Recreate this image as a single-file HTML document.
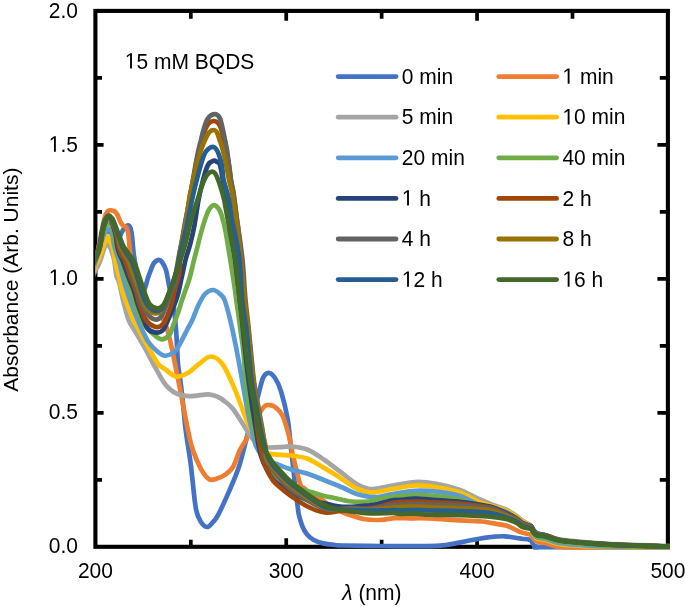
<!DOCTYPE html>
<html><head><meta charset="utf-8"><style>
html,body{margin:0;padding:0;background:#fff;}
svg{display:block;will-change:transform;}
text{font-family:"Liberation Sans", sans-serif;fill:#000;}
</style></head><body>
<svg width="685" height="607" viewBox="0 0 685 607">
<rect width="685" height="607" fill="#fff"/>
<rect x="95.40" y="10.90" width="572.49" height="535.90" fill="none" stroke="#000" stroke-width="4.1"/>
<path d="M190.81 546.80V539.70M190.81 10.90V18.80M286.23 546.80V538.30M286.23 10.90V20.80M381.64 546.80V539.70M381.64 10.90V18.80M477.06 546.80V538.30M477.06 10.90V20.80M572.48 546.80V539.70M572.48 10.90V18.80M95.40 479.81H102.00M667.89 479.81H659.79M95.40 412.82H103.60M667.89 412.82H657.39M95.40 345.84H102.00M667.89 345.84H659.79M95.40 278.85H103.60M667.89 278.85H657.39M95.40 211.86H102.00M667.89 211.86H659.79M95.40 144.88H103.60M667.89 144.88H657.39M95.40 77.89H102.00M667.89 77.89H659.79" stroke="#000" stroke-width="3.7" fill="none"/>
<defs><clipPath id="pc"><rect x="95.4" y="0" width="574.6" height="607"/></clipPath></defs>
<g fill="none" stroke-linejoin="round" stroke-linecap="butt" clip-path="url(#pc)">
<path d="M93.0 274.3C93.4 272.9 94.2 270.1 95.4 266.0C96.6 261.9 98.4 255.0 100.0 250.0C101.6 245.0 103.3 239.0 105.0 236.0C106.7 233.0 108.3 232.0 110.0 232.0C111.7 232.0 113.5 235.0 115.0 236.0C116.5 237.0 117.8 238.7 119.0 238.0C120.2 237.3 121.0 233.7 121.9 232.0C122.8 230.3 123.5 229.1 124.5 228.0C125.5 226.9 127.0 225.3 128.0 225.3C129.0 225.3 129.8 226.2 130.5 228.0C131.2 229.8 131.6 233.0 132.0 236.0C132.4 239.0 132.6 242.7 132.9 246.0C133.2 249.3 133.5 252.3 134.0 256.0C134.5 259.7 135.2 263.7 136.0 268.0C136.8 272.3 138.1 278.3 139.0 282.0C139.9 285.7 140.8 288.5 141.5 290.0C142.2 291.5 142.8 291.6 143.5 291.0C144.2 290.4 144.9 288.4 145.6 286.2C146.3 284.0 147.0 280.8 147.9 278.0C148.8 275.2 150.0 272.2 151.0 269.7C152.0 267.2 152.8 264.6 154.0 263.0C155.2 261.4 157.1 260.1 158.4 259.9C159.7 259.7 160.8 260.4 162.0 262.0C163.2 263.6 165.0 267.0 165.9 269.7C166.8 272.4 167.1 275.1 167.7 278.0C168.3 280.9 168.7 284.2 169.3 287.0C169.9 289.8 170.8 292.3 171.5 295.0C172.2 297.7 172.6 297.5 173.4 303.4C174.2 309.3 175.3 320.5 176.1 330.6C176.9 340.7 177.3 355.8 178.0 364.0C178.7 372.2 179.6 374.6 180.3 380.0C181.0 385.4 181.7 391.0 182.3 396.5C182.9 402.0 183.4 407.5 183.9 413.0C184.4 418.5 184.9 423.9 185.6 429.4C186.3 434.9 187.2 440.5 188.0 446.0C188.8 451.5 189.8 457.1 190.5 462.4C191.2 467.7 191.4 470.2 192.3 478.0C193.2 485.8 194.6 501.9 196.0 509.2C197.4 516.5 199.1 519.0 201.0 522.0C202.9 525.0 205.2 527.0 207.2 527.0C209.2 527.0 211.1 524.1 213.0 522.0C214.9 519.9 215.8 519.4 218.4 514.4C221.0 509.4 225.3 500.0 228.8 491.9C232.3 483.8 236.0 475.9 239.2 466.0C242.4 456.1 245.1 443.5 248.1 432.4C251.1 421.3 254.7 408.5 257.2 399.4C259.7 390.3 261.1 382.4 263.0 378.0C264.9 373.6 266.7 372.8 268.7 372.8C270.7 372.8 272.9 374.9 275.0 378.0C277.1 381.1 278.9 384.3 281.0 391.2C283.1 398.1 286.0 409.6 287.7 419.2C289.4 428.8 290.0 440.3 291.0 448.8C292.0 457.3 292.8 463.1 293.5 470.0C294.2 476.9 294.8 484.2 295.5 490.0C296.2 495.8 296.9 500.9 297.5 505.0C298.1 509.1 298.0 511.1 298.8 514.6C299.6 518.1 301.0 522.8 302.3 526.1C303.6 529.4 305.0 531.9 306.9 534.2C308.8 536.5 311.1 538.5 313.8 540.0C316.5 541.5 319.5 542.6 323.0 543.4C326.5 544.2 331.7 544.6 335.0 545.0C338.3 545.4 335.1 545.3 342.6 545.5C350.1 545.7 367.1 545.9 380.0 546.0C392.9 546.1 410.0 546.2 420.0 546.2C430.0 546.2 434.1 546.2 440.0 545.7C445.9 545.2 450.2 544.3 455.3 543.4C460.4 542.5 465.6 541.3 470.7 540.3C475.8 539.3 481.9 538.2 486.0 537.6C490.1 537.0 491.8 536.8 495.0 536.6C498.2 536.4 501.4 536.1 505.0 536.3C508.6 536.5 513.9 537.6 516.7 538.0C519.5 538.4 520.0 538.4 522.0 538.7C524.0 539.0 527.4 539.2 529.0 539.6C530.6 540.0 530.7 540.1 531.5 541.0C532.3 541.9 532.5 544.0 533.6 545.0C534.7 546.0 536.1 546.8 538.2 547.2C540.3 547.6 524.0 547.2 546.0 547.2C568.0 547.2 649.3 547.2 670.0 547.2" stroke="#4472C4" stroke-width="4.7"/>
<path d="M93.0 273.5C93.4 271.6 94.2 267.6 95.4 262.0C96.6 256.4 98.6 247.0 100.0 240.0C101.4 233.0 102.8 224.8 104.0 220.0C105.2 215.2 106.3 213.1 107.5 211.5C108.7 209.9 109.8 210.3 111.0 210.3C112.2 210.3 113.7 210.7 114.8 211.5C115.9 212.3 116.6 213.4 117.5 215.0C118.4 216.6 119.2 219.3 120.0 221.0C120.8 222.7 121.7 224.1 122.5 225.0C123.3 225.9 124.2 225.9 125.0 226.5C125.8 227.1 126.4 226.9 127.0 228.5C127.6 230.1 128.2 233.1 128.6 236.0C129.0 238.9 129.2 242.8 129.5 246.0C129.8 249.2 130.0 251.8 130.5 255.0C131.0 258.2 131.5 261.5 132.5 265.0C133.5 268.5 135.0 271.8 136.5 276.0C138.0 280.2 139.8 285.8 141.5 290.0C143.2 294.2 144.9 298.2 146.5 301.0C148.1 303.8 149.4 305.3 151.0 306.5C152.6 307.7 154.5 307.1 156.0 308.0C157.5 308.9 158.8 310.0 160.0 312.0C161.2 314.0 162.4 317.5 163.5 320.0C164.6 322.5 165.5 324.2 166.5 327.2C167.5 330.2 168.6 334.2 169.5 338.0C170.4 341.8 170.8 343.0 172.2 350.0C173.6 357.0 176.6 372.2 178.2 380.0C179.8 387.8 180.4 391.0 181.5 396.5C182.6 402.0 183.5 407.5 184.6 413.0C185.7 418.5 186.6 423.9 187.8 429.4C189.0 434.9 190.2 441.1 191.6 446.0C193.0 450.9 194.4 454.6 196.3 459.0C198.2 463.4 200.7 468.9 202.9 472.3C205.1 475.7 207.2 478.5 209.6 479.5C211.9 480.5 214.4 479.3 217.0 478.5C219.6 477.7 222.7 476.5 225.4 474.6C228.1 472.7 230.6 471.1 233.0 467.0C235.4 462.9 237.7 454.7 239.9 450.0C242.2 445.3 244.5 443.2 246.5 439.0C248.5 434.8 249.8 429.4 252.0 425.0C254.2 420.6 257.5 415.8 259.7 412.6C261.9 409.4 263.4 407.3 265.0 406.0C266.6 404.7 267.5 404.8 269.2 405.0C270.9 405.2 272.8 405.2 275.0 407.0C277.2 408.8 280.3 410.8 282.7 415.9C285.1 420.9 287.6 430.8 289.3 437.3C291.0 443.8 291.0 447.0 292.8 454.7C294.6 462.4 298.1 477.9 300.0 483.5C301.9 489.1 302.7 486.7 304.0 488.0C305.3 489.3 305.8 489.9 308.0 491.5C310.2 493.1 314.5 495.6 317.3 497.3C320.1 499.1 322.2 500.1 325.0 502.0C327.8 503.9 329.4 506.2 333.8 508.5C338.2 510.8 346.3 513.8 351.3 515.5C356.3 517.2 359.2 518.2 363.6 519.0C368.0 519.8 372.4 520.1 377.6 520.0C382.9 519.9 389.7 518.5 395.1 518.2C400.5 517.9 404.2 518.2 410.0 518.3C415.8 518.3 421.7 518.1 430.0 518.5C438.3 518.9 451.4 519.9 460.0 520.4C468.6 520.9 476.7 521.1 481.7 521.5C486.7 521.9 485.9 522.0 490.0 522.7C494.1 523.4 501.6 524.3 506.0 525.6C510.4 526.9 514.0 529.1 516.7 530.3C519.4 531.5 519.8 531.9 522.0 532.6C524.2 533.3 528.4 534.0 530.0 534.5C531.6 535.0 530.9 534.8 531.5 535.5C532.1 536.2 532.5 537.5 533.5 538.5C534.5 539.5 535.1 540.7 537.2 541.5C539.3 542.3 542.2 542.4 546.0 543.3C549.8 544.2 552.7 546.1 560.0 546.8C567.3 547.5 580.0 547.3 590.0 547.4C600.0 547.5 606.7 547.5 620.0 547.5C633.3 547.5 661.7 547.5 670.0 547.5" stroke="#ED7D31" stroke-width="4.7"/>
<path d="M93.0 276.5C93.4 275.4 94.6 271.8 95.4 270.0C96.2 268.2 97.1 267.9 98.0 266.0C98.9 264.1 100.0 261.4 101.0 258.5C102.0 255.6 103.2 251.1 104.2 248.5C105.2 245.9 106.2 243.0 107.2 243.0C108.2 243.0 109.6 246.7 110.5 248.5C111.4 250.3 111.9 251.9 112.5 254.0C113.1 256.1 113.6 257.3 114.3 261.0C115.0 264.7 115.7 272.5 116.5 276.0C117.3 279.5 117.8 277.7 119.0 282.0C120.2 286.3 121.9 295.7 123.5 302.0C125.1 308.3 126.9 315.5 128.6 320.0C130.3 324.5 131.1 324.6 133.7 329.0C136.3 333.4 140.6 340.5 144.1 346.7C147.6 352.9 151.0 359.8 154.5 366.0C158.0 372.2 161.4 379.4 165.0 384.0C168.6 388.6 171.9 391.3 176.1 393.3C180.3 395.3 184.6 395.9 190.0 396.1C195.4 396.3 203.7 394.2 208.4 394.3C213.1 394.4 214.9 395.6 218.0 397.0C221.1 398.4 224.4 401.0 226.9 403.0C229.4 405.0 230.8 406.3 233.0 409.0C235.2 411.7 236.8 414.5 239.9 419.2C243.0 423.9 248.4 433.2 251.4 437.3C254.4 441.4 255.5 442.3 258.0 444.0C260.5 445.7 262.9 446.8 266.5 447.3C270.1 447.8 275.3 447.3 279.4 447.2C283.5 447.1 286.5 446.1 291.2 446.5C295.9 446.9 302.2 447.6 307.7 449.8C313.2 452.0 318.7 456.1 324.1 459.7C329.5 463.3 334.4 467.4 340.0 471.5C345.6 475.6 352.2 481.6 357.5 484.5C362.8 487.4 365.6 488.8 371.5 489.0C377.4 489.2 385.3 486.7 392.6 485.5C399.9 484.3 408.0 482.3 415.3 482.0C422.6 481.7 428.9 482.5 436.4 483.8C443.8 485.1 452.9 487.4 460.0 489.9C467.1 492.4 473.2 496.5 478.8 499.0C484.4 501.5 488.9 503.2 493.4 505.0C497.9 506.8 502.1 507.7 506.0 509.5C509.9 511.3 514.0 514.2 516.7 516.0C519.4 517.8 519.8 519.0 522.0 520.5C524.2 522.0 528.4 524.0 530.0 525.0C531.6 526.0 530.9 525.7 531.5 526.5C532.1 527.3 532.5 528.8 533.5 530.0C534.5 531.2 535.1 532.6 537.2 533.5C539.3 534.4 542.2 534.5 546.0 535.5C549.8 536.5 552.7 538.4 560.0 539.6C567.3 540.8 580.0 541.8 590.0 542.6C600.0 543.4 606.7 543.8 620.0 544.4C633.3 545.0 661.7 545.7 670.0 546.0" stroke="#A5A5A5" stroke-width="4.7"/>
<path d="M93.0 273.5C93.4 272.2 94.5 268.3 95.4 266.0C96.3 263.7 97.6 261.7 98.5 259.5C99.4 257.3 100.0 255.9 101.0 253.0C102.0 250.1 103.7 244.9 104.8 242.0C105.9 239.1 106.6 235.8 107.5 235.8C108.4 235.8 109.3 240.0 110.2 242.0C111.1 244.0 112.0 244.8 112.8 248.0C113.6 251.2 114.1 256.3 115.1 261.0C116.1 265.7 117.7 271.0 118.9 276.0C120.1 281.0 120.9 286.2 122.3 291.0C123.7 295.8 125.5 300.2 127.4 305.0C129.3 309.8 130.6 313.8 133.6 320.0C136.6 326.2 141.6 335.1 145.6 342.3C149.6 349.5 154.2 358.6 157.4 363.0C160.6 367.4 161.8 366.8 164.9 369.0C168.0 371.2 172.2 375.8 176.0 376.5C179.8 377.2 183.9 375.1 187.7 373.0C191.5 370.9 195.2 366.8 199.0 364.0C202.8 361.2 206.8 356.5 210.7 356.5C214.6 356.5 218.3 358.7 222.2 363.8C226.0 368.9 230.0 378.0 233.8 386.9C237.7 395.8 241.9 408.4 245.3 416.9C248.8 425.3 251.7 432.2 254.5 437.6C257.3 443.0 259.4 446.3 262.0 449.0C264.6 451.7 264.9 452.8 269.8 453.9C274.7 455.0 284.9 454.7 291.2 455.5C297.5 456.3 302.2 456.7 307.7 458.8C313.2 460.9 318.7 464.8 324.1 467.9C329.5 471.0 334.4 474.2 340.0 477.7C345.6 481.2 352.2 486.5 357.5 489.0C362.8 491.5 365.6 492.5 371.5 492.5C377.4 492.5 385.3 490.2 392.6 489.0C399.9 487.8 408.0 485.8 415.3 485.5C422.6 485.2 428.9 486.1 436.4 487.3C443.8 488.5 452.9 490.2 460.0 492.6C467.1 495.1 473.2 499.7 478.8 502.0C484.4 504.3 488.9 505.1 493.4 506.5C497.9 507.9 502.1 508.8 506.0 510.5C509.9 512.2 514.0 515.2 516.7 517.0C519.4 518.8 519.8 520.0 522.0 521.5C524.2 523.0 528.4 525.0 530.0 526.0C531.6 527.0 530.9 526.1 531.5 527.5C532.1 528.9 532.5 532.7 533.5 534.5C534.5 536.3 535.1 537.6 537.2 538.5C539.3 539.4 542.2 539.0 546.0 540.0C549.8 541.0 552.7 543.2 560.0 544.3C567.3 545.3 580.0 545.8 590.0 546.3C600.0 546.8 606.7 546.9 620.0 547.0C633.3 547.1 661.7 547.2 670.0 547.2" stroke="#FFC000" stroke-width="4.7"/>
<path d="M93.0 270.0C93.4 268.7 94.4 265.3 95.4 262.0C96.4 258.7 97.9 253.7 99.0 250.0C100.1 246.3 101.0 243.0 102.0 240.0C103.0 237.0 103.9 233.8 105.0 232.0C106.1 230.2 107.5 229.6 108.5 229.3C109.5 229.1 110.3 229.2 111.0 230.5C111.7 231.8 112.2 234.4 112.8 237.0C113.3 239.6 113.3 242.0 114.3 246.0C115.3 250.0 117.6 256.0 119.0 261.0C120.4 266.0 121.3 271.0 122.6 276.0C123.9 281.0 125.4 286.2 126.9 291.0C128.4 295.8 129.7 299.4 131.8 305.0C133.9 310.6 136.9 318.3 139.7 324.5C142.5 330.7 145.4 337.6 148.6 342.3C151.8 347.0 156.2 350.5 158.9 352.7C161.6 354.9 162.8 355.4 164.6 355.7C166.4 356.0 168.1 355.4 170.0 354.5C171.9 353.6 174.2 352.3 176.1 350.0C178.0 347.7 179.7 344.1 181.5 340.8C183.3 337.5 185.2 333.5 187.0 330.0C188.8 326.5 190.5 324.0 192.3 320.0C194.1 316.0 195.9 310.3 198.0 306.0C200.1 301.7 202.5 296.7 205.0 294.0C207.5 291.3 210.6 290.0 213.1 290.0C215.6 290.0 218.0 292.2 220.0 294.0C222.0 295.8 223.1 295.7 225.0 301.0C226.9 306.3 229.7 317.8 231.6 326.0C233.5 334.2 234.8 341.0 236.6 350.0C238.3 359.0 240.4 370.3 242.1 380.0C243.8 389.7 245.4 399.7 247.0 408.0C248.6 416.3 250.3 423.7 251.8 430.0C253.3 436.3 254.3 441.8 256.0 446.0C257.7 450.2 260.0 453.1 262.0 455.5C264.0 457.9 265.7 459.1 268.0 460.5C270.3 461.9 271.8 462.1 275.7 463.6C279.6 465.1 285.9 467.8 291.2 469.5C296.5 471.2 302.1 471.9 307.7 473.7C313.3 475.5 319.2 478.2 325.0 480.5C330.8 482.8 337.2 485.2 342.6 487.5C348.0 489.8 352.1 492.7 357.5 494.3C362.9 495.9 369.1 497.2 375.0 497.2C380.9 497.1 385.9 495.1 392.6 494.0C399.3 492.9 408.0 491.2 415.3 490.8C422.6 490.4 428.9 490.8 436.4 491.7C443.8 492.6 452.9 493.8 460.0 496.0C467.1 498.2 473.2 503.0 478.8 505.0C484.4 507.0 488.9 506.8 493.4 508.0C497.9 509.2 502.1 510.2 506.0 512.0C509.9 513.8 514.0 516.8 516.7 518.5C519.4 520.2 519.8 521.2 522.0 522.5C524.2 523.8 528.4 525.6 530.0 526.5C531.6 527.4 530.9 526.8 531.5 528.0C532.1 529.2 532.5 532.4 533.5 534.0C534.5 535.6 535.1 536.7 537.2 537.5C539.3 538.3 542.2 538.0 546.0 539.0C549.8 540.0 552.7 542.2 560.0 543.3C567.3 544.4 580.0 545.2 590.0 545.8C600.0 546.4 606.7 546.6 620.0 546.8C633.3 547.0 661.7 547.0 670.0 547.1" stroke="#5B9BD5" stroke-width="4.7"/>
<path d="M93.0 268.7C93.4 267.2 94.4 263.6 95.4 260.0C96.4 256.4 97.9 251.0 99.0 247.0C100.1 243.0 100.9 239.4 102.0 236.0C103.1 232.6 104.4 228.5 105.5 226.5C106.6 224.5 107.5 224.4 108.5 224.2C109.5 224.0 110.7 224.0 111.5 225.3C112.3 226.6 112.8 228.6 113.5 232.0C114.2 235.4 114.6 241.2 115.9 246.0C117.2 250.8 119.6 256.0 121.2 261.0C122.8 266.0 124.2 271.0 125.8 276.0C127.4 281.0 129.6 286.2 131.1 291.0C132.6 295.8 133.3 300.2 135.0 305.0C136.7 309.8 139.2 316.1 141.2 320.0C143.2 323.9 144.6 325.8 147.1 328.5C149.6 331.2 153.5 334.5 156.0 336.3C158.5 338.1 159.7 339.5 161.9 339.3C164.1 339.1 167.5 337.1 169.3 334.9C171.2 332.7 171.6 329.6 173.0 326.0C174.4 322.4 176.3 317.8 177.8 313.5C179.3 309.2 180.1 305.8 182.0 300.0C183.9 294.2 187.5 285.1 189.4 278.8C191.3 272.5 192.1 267.5 193.5 262.0C194.9 256.5 196.4 251.1 197.7 245.9C199.0 240.7 200.3 235.4 201.5 231.0C202.7 226.6 203.8 222.9 205.0 219.5C206.2 216.1 207.1 212.9 208.5 210.5C209.9 208.1 212.0 205.4 213.7 205.1C215.4 204.8 217.2 206.8 218.5 208.5C219.8 210.2 220.4 211.4 221.5 215.0C222.6 218.6 224.0 223.3 225.3 230.0C226.6 236.7 228.1 246.7 229.5 255.0C230.9 263.3 232.2 271.7 233.5 280.0C234.8 288.3 235.8 296.7 237.0 305.0C238.2 313.3 239.5 322.5 240.5 330.0C241.5 337.5 242.3 341.7 243.2 350.0C244.1 358.3 244.6 370.0 245.7 380.0C246.8 390.0 248.1 401.7 249.5 410.0C250.9 418.3 252.5 423.8 254.0 430.0C255.5 436.2 256.8 442.0 258.5 447.0C260.2 452.0 261.8 455.8 264.0 460.0C266.2 464.2 268.5 468.3 272.0 472.0C275.5 475.7 280.4 479.2 285.0 482.0C289.6 484.8 294.2 486.6 299.4 488.5C304.5 490.4 311.6 492.1 315.9 493.4C320.2 494.7 322.2 495.6 325.0 496.3C327.8 497.0 328.0 496.6 332.4 497.5C336.8 498.4 345.2 500.8 351.3 501.5C357.4 502.2 364.9 501.8 368.8 501.5C372.8 501.2 371.0 500.4 375.0 499.6C379.0 498.8 385.9 497.6 392.6 496.9C399.3 496.2 408.0 495.3 415.3 495.2C422.6 495.1 428.9 495.3 436.4 496.0C443.8 496.7 452.9 497.8 460.0 499.6C467.1 501.4 473.2 505.3 478.8 507.0C484.4 508.7 488.9 508.8 493.4 510.0C497.9 511.2 502.1 512.4 506.0 514.0C509.9 515.6 514.0 517.9 516.7 519.5C519.4 521.1 519.8 522.2 522.0 523.5C524.2 524.8 528.4 526.2 530.0 527.0C531.6 527.8 530.9 527.5 531.5 528.5C532.1 529.5 532.5 531.7 533.5 533.0C534.5 534.3 535.1 535.7 537.2 536.5C539.3 537.3 542.2 536.8 546.0 537.7C549.8 538.6 552.7 540.6 560.0 541.8C567.3 542.9 580.0 543.9 590.0 544.6C600.0 545.3 606.7 545.8 620.0 546.2C633.3 546.6 661.7 546.9 670.0 547.0" stroke="#70AD47" stroke-width="4.7"/>
<path d="M93.0 264.9C93.4 263.9 94.3 261.6 95.4 259.0C96.5 256.4 98.3 253.3 99.5 249.0C100.7 244.7 101.4 237.3 102.3 233.0C103.2 228.7 103.9 225.5 105.0 223.0C106.1 220.5 107.5 217.8 108.8 218.0C110.0 218.2 111.4 221.3 112.5 224.0C113.6 226.7 114.8 231.3 115.5 234.0C116.2 236.7 116.2 238.0 116.5 240.0C116.8 242.0 116.7 243.7 117.2 246.0C117.7 248.3 118.6 251.5 119.5 254.0C120.4 256.5 121.3 257.3 122.7 261.0C124.1 264.7 126.1 271.0 128.0 276.0C129.9 281.0 132.3 286.2 134.0 291.0C135.7 295.8 136.3 300.1 138.0 305.0C139.7 309.9 142.3 316.5 144.0 320.5C145.7 324.5 146.0 327.0 148.0 329.0C150.0 331.0 153.5 332.4 156.0 332.6C158.5 332.8 161.0 332.1 163.0 330.0C165.0 327.9 166.3 323.7 168.0 320.0C169.7 316.3 171.6 311.5 173.0 308.0C174.4 304.5 175.5 302.0 176.5 299.0C177.5 296.0 178.1 294.0 179.0 290.0C179.9 286.0 181.0 280.3 182.2 275.0C183.4 269.7 184.7 263.0 186.0 258.0C187.3 253.0 188.6 250.5 190.0 245.0C191.4 239.5 193.1 232.5 194.5 225.0C195.9 217.5 197.1 207.5 198.5 200.0C199.9 192.5 201.4 185.8 203.0 180.0C204.6 174.2 206.2 168.2 208.0 165.0C209.8 161.8 212.2 161.2 213.7 160.7C215.2 160.2 215.9 161.3 217.0 162.0C218.1 162.7 219.0 162.0 220.0 165.0C221.0 168.0 222.1 175.8 222.8 180.0C223.6 184.2 224.0 186.7 224.5 190.0C225.0 193.3 225.3 195.0 226.0 200.0C226.7 205.0 227.9 215.0 228.5 220.0C229.1 225.0 229.1 225.8 229.8 230.0C230.5 234.2 231.6 240.0 232.5 245.0C233.4 250.0 234.2 254.2 235.0 260.0C235.8 265.8 236.5 271.7 237.5 280.0C238.5 288.3 239.8 299.2 241.0 310.0C242.2 320.8 243.2 333.3 244.5 345.0C245.8 356.7 247.2 370.0 248.5 380.0C249.8 390.0 250.8 396.7 252.0 405.0C253.2 413.3 254.9 423.3 256.0 430.0C257.1 436.7 257.6 440.4 258.5 445.0C259.4 449.6 260.2 453.7 261.5 457.5C262.8 461.3 264.2 464.6 266.0 468.0C267.8 471.4 269.7 475.1 272.0 478.0C274.3 480.9 277.0 483.2 280.0 485.5C283.0 487.8 285.4 489.6 290.0 492.0C294.6 494.4 301.7 498.1 307.5 500.0C313.3 501.9 319.6 502.4 325.0 503.5C330.4 504.6 335.6 506.1 340.0 506.6C344.4 507.2 347.0 507.0 351.3 506.8C355.6 506.6 362.1 506.1 366.0 505.7C369.9 505.3 370.6 505.4 375.0 504.5C379.4 503.6 388.4 501.2 392.6 500.4C396.8 499.6 396.2 500.2 400.0 499.9C403.8 499.6 410.3 498.8 415.3 498.7C420.3 498.6 422.6 499.1 430.0 499.6C437.4 500.1 450.0 500.6 460.0 501.8C470.0 503.0 482.3 504.7 490.0 506.6C497.7 508.5 501.6 511.0 506.0 513.0C510.4 515.0 514.0 516.9 516.7 518.5C519.4 520.1 519.8 521.6 522.0 522.8C524.2 524.0 528.4 525.2 530.0 525.8C531.6 526.4 530.9 525.8 531.5 526.5C532.1 527.2 532.5 528.8 533.5 530.0C534.5 531.2 535.1 532.6 537.2 533.5C539.3 534.4 542.2 534.1 546.0 535.2C549.8 536.3 552.7 538.7 560.0 540.0C567.3 541.3 580.0 542.3 590.0 543.1C600.0 543.9 606.7 544.3 620.0 544.9C633.3 545.5 661.7 546.2 670.0 546.5" stroke="#264478" stroke-width="4.7"/>
<path d="M93.0 263.9C93.4 262.9 94.3 260.6 95.4 258.0C96.5 255.3 98.3 252.2 99.5 248.0C100.7 243.8 101.4 236.8 102.3 232.5C103.2 228.2 103.9 225.0 105.0 222.5C106.1 220.0 107.5 217.3 108.8 217.5C110.0 217.7 111.3 220.9 112.5 223.5C113.7 226.1 115.2 230.2 116.0 233.0C116.8 235.8 117.1 237.8 117.5 240.0C117.9 242.2 117.8 243.7 118.4 246.0C119.0 248.3 119.9 251.5 121.0 254.0C122.1 256.5 123.5 257.3 125.0 261.0C126.5 264.7 128.4 271.0 130.2 276.0C132.0 281.0 134.4 286.2 136.0 291.0C137.6 295.8 138.0 300.2 139.7 305.0C141.4 309.8 143.3 316.3 146.0 320.0C148.7 323.7 153.2 326.3 156.0 327.0C158.8 327.7 161.0 326.2 163.0 324.0C165.0 321.8 166.5 317.7 168.0 314.0C169.5 310.3 170.9 306.0 172.0 302.0C173.1 298.0 173.4 294.5 174.6 290.0C175.8 285.5 178.0 280.8 179.0 275.0C180.0 269.2 179.5 263.3 180.5 255.0C181.5 246.7 183.5 234.2 185.0 225.0C186.5 215.8 187.7 210.0 189.5 200.0C191.3 190.0 194.4 173.3 196.0 165.0C197.6 156.7 198.0 154.2 199.0 150.0C200.0 145.8 201.0 143.3 202.0 140.0C203.0 136.7 203.9 132.8 205.0 130.0C206.1 127.2 207.0 125.0 208.5 123.5C210.0 122.0 212.2 121.0 213.9 121.0C215.6 121.0 217.2 122.0 218.5 123.5C219.8 125.0 220.7 127.2 221.5 130.0C222.3 132.8 222.8 136.7 223.6 140.0C224.3 143.3 225.1 145.8 226.0 150.0C226.9 154.2 228.2 160.0 229.0 165.0C229.8 170.0 230.1 175.8 230.8 180.0C231.5 184.2 232.4 186.7 233.0 190.0C233.6 193.3 233.8 195.0 234.5 200.0C235.2 205.0 236.4 215.0 237.0 220.0C237.6 225.0 237.6 223.3 238.3 230.0C239.1 236.7 240.5 248.3 241.5 260.0C242.5 271.7 243.4 288.3 244.5 300.0C245.6 311.7 246.5 316.7 247.8 330.0C249.1 343.3 251.3 367.5 252.5 380.0C253.7 392.5 254.2 396.7 255.0 405.0C255.8 413.3 256.8 423.3 257.6 430.0C258.4 436.7 259.2 440.4 260.0 445.0C260.8 449.6 261.1 453.3 262.3 457.5C263.5 461.7 265.2 466.2 267.0 470.0C268.8 473.8 270.8 477.6 273.0 480.5C275.2 483.4 277.2 484.8 280.0 487.3C282.8 489.8 285.4 492.1 290.0 495.3C294.6 498.5 301.7 503.6 307.5 506.5C313.3 509.4 319.6 511.8 325.0 512.5C330.4 513.2 335.6 511.4 340.0 511.0C344.4 510.6 347.0 510.7 351.3 510.3C355.6 509.9 362.1 509.0 366.0 508.5C369.9 508.0 370.6 508.4 375.0 507.5C379.4 506.6 388.4 504.0 392.6 503.1C396.8 502.2 396.2 502.4 400.0 502.2C403.8 502.0 410.3 501.7 415.3 501.7C420.3 501.7 422.6 502.0 430.0 502.3C437.4 502.6 450.0 502.7 460.0 503.6C470.0 504.5 482.3 505.8 490.0 507.5C497.7 509.2 501.6 512.1 506.0 514.0C510.4 515.9 514.0 517.5 516.7 519.0C519.4 520.5 519.8 522.1 522.0 523.3C524.2 524.5 528.4 525.7 530.0 526.3C531.6 526.9 530.9 526.3 531.5 527.0C532.1 527.7 532.5 529.3 533.5 530.5C534.5 531.7 535.1 533.2 537.2 534.0C539.3 534.8 542.2 534.5 546.0 535.5C549.8 536.5 552.7 538.8 560.0 540.1C567.3 541.4 580.0 542.4 590.0 543.2C600.0 544.0 606.7 544.5 620.0 545.0C633.3 545.5 661.7 546.2 670.0 546.5" stroke="#9E480E" stroke-width="4.7"/>
<path d="M93.0 263.9C93.4 262.9 94.3 260.6 95.4 258.0C96.5 255.3 98.3 252.3 99.5 248.0C100.7 243.7 101.4 236.3 102.3 232.0C103.2 227.7 103.9 224.5 105.0 222.0C106.1 219.5 107.5 216.9 108.8 217.0C110.0 217.1 111.1 219.7 112.5 222.5C113.9 225.3 115.9 230.8 117.0 234.0C118.1 237.2 118.4 239.7 119.0 242.0C119.6 244.3 119.6 245.7 120.5 248.0C121.4 250.3 123.2 253.7 124.5 256.0C125.8 258.3 127.3 258.7 128.6 262.0C129.9 265.3 130.7 271.2 132.3 276.0C133.9 280.8 136.4 286.2 138.0 291.0C139.6 295.8 140.4 301.0 142.1 305.0C143.8 309.0 145.8 312.6 148.0 315.0C150.2 317.4 152.8 319.2 155.0 319.5C157.2 319.8 159.2 319.2 161.0 317.0C162.8 314.8 164.3 310.2 166.0 306.0C167.7 301.8 169.4 296.3 171.0 292.0C172.6 287.7 174.0 286.7 175.5 280.0C177.0 273.3 178.4 261.5 180.0 252.0C181.6 242.5 183.4 231.7 185.0 223.0C186.6 214.3 187.8 209.7 189.5 200.0C191.2 190.3 194.0 173.3 195.5 165.0C197.0 156.7 197.6 154.2 198.5 150.0C199.4 145.8 200.2 143.3 201.0 140.0C201.8 136.7 202.4 133.5 203.5 130.0C204.6 126.5 205.7 121.7 207.5 119.0C209.3 116.3 212.3 114.3 214.3 114.1C216.3 113.8 218.2 115.3 219.5 117.5C220.8 119.7 221.4 123.2 222.3 127.0C223.2 130.8 224.2 136.2 225.0 140.0C225.8 143.8 226.3 145.8 227.0 150.0C227.7 154.2 228.3 160.0 229.0 165.0C229.7 170.0 230.4 175.8 231.0 180.0C231.6 184.2 232.2 186.7 232.8 190.0C233.4 193.3 233.6 195.0 234.3 200.0C235.0 205.0 236.3 215.0 237.0 220.0C237.7 225.0 237.6 223.3 238.5 230.0C239.4 236.7 241.3 248.3 242.5 260.0C243.7 271.7 244.4 288.3 245.5 300.0C246.6 311.7 247.4 316.7 248.8 330.0C250.2 343.3 252.3 367.5 253.8 380.0C255.3 392.5 256.6 396.7 258.0 405.0C259.4 413.3 261.4 423.2 262.5 430.0C263.6 436.8 264.1 441.4 264.5 446.0C264.9 450.6 264.2 454.2 265.1 457.5C266.0 460.8 267.5 462.4 270.0 466.0C272.5 469.6 276.7 475.2 280.0 479.0C283.3 482.8 285.4 485.4 290.0 489.0C294.6 492.6 301.7 497.2 307.5 500.5C313.3 503.8 319.6 507.6 325.0 509.0C330.4 510.4 335.6 509.1 340.0 509.0C344.4 508.9 347.0 508.2 351.3 508.2C355.6 508.2 362.1 509.0 366.0 509.0C369.9 509.0 370.6 508.6 375.0 508.0C379.4 507.4 388.4 505.8 392.6 505.2C396.8 504.6 396.2 504.9 400.0 504.7C403.8 504.5 410.3 504.0 415.3 504.0C420.3 504.0 422.6 504.3 430.0 504.6C437.4 504.9 450.0 505.0 460.0 505.6C470.0 506.2 482.3 506.5 490.0 508.0C497.7 509.5 501.6 512.6 506.0 514.5C510.4 516.4 514.0 518.0 516.7 519.5C519.4 521.0 519.8 522.6 522.0 523.8C524.2 525.0 528.4 526.2 530.0 526.8C531.6 527.4 530.9 526.8 531.5 527.5C532.1 528.2 532.5 529.9 533.5 531.0C534.5 532.1 535.1 533.5 537.2 534.3C539.3 535.1 542.2 534.7 546.0 535.7C549.8 536.7 552.7 539.0 560.0 540.2C567.3 541.5 580.0 542.4 590.0 543.2C600.0 544.0 606.7 544.5 620.0 545.0C633.3 545.5 661.7 546.2 670.0 546.5" stroke="#636363" stroke-width="4.7"/>
<path d="M93.0 262.9C93.4 261.9 94.3 259.6 95.4 257.0C96.5 254.3 98.3 251.2 99.5 247.0C100.7 242.8 101.4 235.8 102.3 231.5C103.2 227.2 103.9 224.0 105.0 221.5C106.1 219.0 107.5 216.5 108.8 216.5C110.0 216.5 111.1 218.8 112.5 221.5C113.9 224.2 115.8 229.6 117.0 233.0C118.2 236.4 118.8 239.5 119.5 242.0C120.2 244.5 120.1 245.8 121.0 248.0C121.9 250.2 123.7 252.8 125.0 255.0C126.3 257.2 127.1 257.5 128.6 261.0C130.1 264.5 132.2 271.0 134.0 276.0C135.8 281.0 137.8 286.2 139.5 291.0C141.2 295.8 142.8 301.6 144.5 305.0C146.2 308.4 148.2 310.1 150.0 311.5C151.8 312.9 153.8 313.6 155.6 313.5C157.4 313.4 159.1 313.4 161.0 311.0C162.9 308.6 165.1 303.3 167.0 299.0C168.9 294.7 171.0 289.5 172.5 285.0C174.0 280.5 174.8 277.8 176.0 272.0C177.2 266.2 178.3 258.3 180.0 250.0C181.7 241.7 184.5 230.3 186.0 222.0C187.5 213.7 188.2 205.3 189.0 200.0C189.8 194.7 189.7 195.8 191.0 190.0C192.3 184.2 194.9 171.7 196.6 165.0C198.3 158.3 199.6 154.2 201.0 150.0C202.4 145.8 203.7 142.9 205.0 140.0C206.3 137.1 207.6 134.2 209.0 132.5C210.4 130.8 212.4 130.0 213.7 130.0C215.0 130.0 216.0 130.8 217.0 132.5C218.0 134.2 218.6 137.1 219.6 140.0C220.6 142.9 221.7 145.8 222.8 150.0C223.9 154.2 225.3 160.0 226.3 165.0C227.3 170.0 228.1 175.8 229.0 180.0C229.9 184.2 230.8 186.7 231.5 190.0C232.2 193.3 232.6 195.0 233.3 200.0C234.1 205.0 235.3 215.0 236.0 220.0C236.7 225.0 236.5 223.3 237.3 230.0C238.1 236.7 239.8 248.3 241.0 260.0C242.2 271.7 243.5 288.3 244.7 300.0C245.9 311.7 246.9 316.7 248.3 330.0C249.7 343.3 251.8 367.5 253.3 380.0C254.8 392.5 256.1 396.7 257.5 405.0C258.9 413.3 260.7 423.2 262.0 430.0C263.3 436.8 264.8 441.4 265.5 446.0C266.2 450.6 265.5 454.2 266.5 457.5C267.5 460.8 269.2 463.0 271.5 466.0C273.8 469.0 276.9 472.2 280.0 475.5C283.1 478.8 285.4 481.8 290.0 485.5C294.6 489.2 301.7 494.2 307.5 498.0C313.3 501.8 319.6 506.1 325.0 508.0C330.4 509.9 335.6 509.2 340.0 509.5C344.4 509.8 347.0 509.4 351.3 509.5C355.6 509.6 362.1 510.0 366.0 510.0C369.9 510.0 370.6 509.9 375.0 509.5C379.4 509.1 388.4 507.9 392.6 507.5C396.8 507.1 396.2 507.1 400.0 507.0C403.8 506.9 410.3 506.6 415.3 506.6C420.3 506.7 422.6 507.0 430.0 507.3C437.4 507.6 450.0 507.8 460.0 508.3C470.0 508.8 482.3 508.9 490.0 510.2C497.7 511.5 501.6 514.3 506.0 516.0C510.4 517.7 514.0 519.0 516.7 520.5C519.4 522.0 519.8 523.7 522.0 524.8C524.2 525.9 528.4 526.8 530.0 527.3C531.6 527.8 530.9 527.3 531.5 528.0C532.1 528.7 532.5 530.2 533.5 531.3C534.5 532.4 535.1 533.7 537.2 534.5C539.3 535.3 542.2 534.9 546.0 535.9C549.8 536.9 552.7 539.1 560.0 540.3C567.3 541.5 580.0 542.5 590.0 543.3C600.0 544.1 606.7 544.5 620.0 545.0C633.3 545.5 661.7 546.2 670.0 546.5" stroke="#997300" stroke-width="4.7"/>
<path d="M93.0 262.9C93.4 261.9 94.3 259.6 95.4 257.0C96.5 254.3 98.3 251.3 99.5 247.0C100.7 242.7 101.4 235.3 102.3 231.0C103.2 226.7 103.9 223.5 105.0 221.0C106.1 218.5 107.5 216.1 108.8 216.0C110.0 215.9 111.1 217.8 112.5 220.5C113.9 223.2 115.7 228.6 117.0 232.0C118.3 235.4 119.6 238.5 120.5 241.0C121.4 243.5 121.3 244.7 122.5 247.0C123.7 249.3 125.9 252.5 127.5 255.0C129.1 257.5 130.6 259.0 132.0 262.0C133.4 265.0 134.8 269.5 136.0 273.0C137.2 276.5 138.0 279.7 139.0 283.0C140.0 286.3 140.9 289.8 142.0 293.0C143.1 296.2 144.2 299.5 145.5 302.0C146.8 304.5 148.2 306.5 150.0 308.0C151.8 309.5 153.8 311.1 156.0 311.0C158.2 310.9 160.8 310.7 163.0 307.5C165.2 304.3 167.5 297.1 169.5 292.0C171.5 286.9 173.1 284.0 175.0 277.0C176.9 270.0 179.0 258.7 181.0 250.0C183.0 241.3 185.2 233.3 187.0 225.0C188.8 216.7 190.2 208.3 192.0 200.0C193.8 191.7 196.0 182.5 198.0 175.0C200.0 167.5 202.2 159.4 204.0 155.0C205.8 150.6 207.4 149.8 209.0 148.5C210.6 147.2 212.2 146.8 213.5 147.0C214.8 147.2 215.6 148.2 216.5 149.5C217.4 150.8 218.1 152.4 219.0 155.0C219.9 157.6 221.0 160.8 221.8 165.0C222.6 169.2 222.8 175.8 223.6 180.0C224.4 184.2 225.6 186.7 226.5 190.0C227.4 193.3 228.1 195.0 229.0 200.0C229.9 205.0 231.1 215.0 232.0 220.0C232.9 225.0 232.9 223.3 234.2 230.0C235.4 236.7 238.2 248.3 239.5 260.0C240.8 271.7 241.0 288.3 242.2 300.0C243.3 311.7 244.8 316.7 246.4 330.0C248.0 343.3 249.9 367.5 251.5 380.0C253.1 392.5 254.5 396.7 256.0 405.0C257.5 413.3 259.1 423.2 260.5 430.0C261.9 436.8 263.2 441.5 264.5 446.0C265.8 450.5 266.6 453.8 268.0 457.0C269.4 460.2 271.0 462.8 273.0 465.5C275.0 468.2 277.2 470.1 280.0 473.0C282.8 475.9 285.4 479.2 290.0 483.0C294.6 486.8 301.7 492.0 307.5 496.0C313.3 500.0 319.6 504.8 325.0 507.0C330.4 509.2 335.6 509.0 340.0 509.5C344.4 510.0 347.0 509.8 351.3 510.0C355.6 510.2 362.1 510.4 366.0 510.5C369.9 510.6 370.6 510.6 375.0 510.5C379.4 510.4 388.4 510.0 392.6 510.0C396.8 510.0 396.2 510.4 400.0 510.4C403.8 510.4 410.3 510.0 415.3 510.0C420.3 510.0 422.6 510.3 430.0 510.5C437.4 510.7 450.0 510.8 460.0 511.2C470.0 511.6 482.3 511.9 490.0 513.0C497.7 514.0 501.6 516.1 506.0 517.5C510.4 518.9 514.0 520.1 516.7 521.5C519.4 522.9 519.8 524.6 522.0 525.6C524.2 526.6 528.4 527.3 530.0 527.8C531.6 528.3 530.9 527.9 531.5 528.5C532.1 529.1 532.5 530.6 533.5 531.7C534.5 532.8 535.1 534.1 537.2 534.9C539.3 535.6 542.2 535.3 546.0 536.2C549.8 537.1 552.7 539.3 560.0 540.5C567.3 541.7 580.0 542.6 590.0 543.4C600.0 544.2 606.7 544.6 620.0 545.1C633.3 545.6 661.7 546.3 670.0 546.5" stroke="#255E91" stroke-width="4.7"/>
<path d="M93.0 261.9C93.4 260.9 94.3 258.6 95.4 256.0C96.5 253.3 98.3 250.3 99.5 246.0C100.7 241.7 101.4 234.3 102.3 230.0C103.2 225.7 103.9 222.4 105.0 220.0C106.1 217.6 107.5 215.7 108.8 215.5C110.0 215.3 111.1 216.6 112.5 219.0C113.9 221.4 115.7 226.7 117.0 230.0C118.3 233.3 119.5 236.3 120.5 239.0C121.5 241.7 122.0 243.7 123.3 246.0C124.5 248.3 126.3 250.5 128.0 253.0C129.7 255.5 132.2 258.2 133.7 261.0C135.2 263.8 136.0 266.9 137.0 269.7C138.0 272.5 138.8 275.1 139.7 278.0C140.6 280.9 141.7 284.2 142.7 287.0C143.7 289.8 144.4 292.2 145.5 295.0C146.6 297.8 147.7 301.8 149.5 304.0C151.3 306.2 153.8 308.3 156.1 308.5C158.4 308.7 161.2 308.1 163.5 305.0C165.8 301.9 168.0 295.0 170.0 290.0C172.0 285.0 172.9 282.5 175.4 275.0C177.9 267.5 182.4 254.2 185.0 245.0C187.6 235.8 188.9 227.5 191.0 220.0C193.1 212.5 195.5 206.2 197.5 200.0C199.5 193.8 201.4 187.2 203.0 183.0C204.6 178.8 205.5 176.9 207.0 175.0C208.5 173.1 210.8 171.7 212.2 171.5C213.6 171.3 214.5 172.6 215.5 174.0C216.5 175.4 217.2 177.3 218.2 180.0C219.2 182.7 220.5 186.7 221.5 190.0C222.5 193.3 223.1 195.1 224.2 200.0C225.2 204.9 226.8 214.4 227.8 219.4C228.8 224.4 228.8 223.2 230.0 230.0C231.2 236.8 233.7 248.3 235.3 260.0C236.9 271.7 238.3 288.3 239.7 300.0C241.1 311.7 241.8 316.7 243.5 330.0C245.2 343.3 248.2 367.5 250.0 380.0C251.8 392.5 253.0 396.7 254.5 405.0C256.0 413.3 257.7 423.0 259.2 430.0C260.7 437.0 261.8 442.4 263.5 447.0C265.2 451.6 267.7 454.6 269.5 457.5C271.3 460.4 272.4 462.3 274.2 464.5C275.9 466.7 277.4 467.8 280.0 470.6C282.6 473.4 285.4 477.1 290.0 481.1C294.6 485.1 301.7 490.4 307.5 494.5C313.3 498.6 319.6 503.0 325.0 505.5C330.4 508.0 335.6 508.5 340.0 509.5C344.4 510.5 347.0 510.9 351.3 511.5C355.6 512.1 362.1 512.9 366.0 513.2C369.9 513.5 370.6 513.5 375.0 513.5C379.4 513.5 388.4 513.0 392.6 513.0C396.8 513.0 396.2 513.7 400.0 513.8C403.8 513.9 410.3 513.5 415.3 513.6C420.3 513.8 422.6 514.4 430.0 514.7C437.4 515.0 450.0 514.9 460.0 515.2C470.0 515.5 482.3 516.1 490.0 516.7C497.7 517.3 501.6 518.0 506.0 519.0C510.4 520.0 514.0 521.7 516.7 523.0C519.4 524.3 519.8 525.8 522.0 526.8C524.2 527.8 528.4 528.3 530.0 528.8C531.6 529.2 530.9 528.9 531.5 529.5C532.1 530.1 532.5 531.5 533.5 532.5C534.5 533.5 535.1 534.8 537.2 535.5C539.3 536.2 542.2 535.8 546.0 536.7C549.8 537.6 552.7 539.6 560.0 540.8C567.3 541.9 580.0 542.9 590.0 543.6C600.0 544.3 606.7 544.7 620.0 545.2C633.3 545.7 661.7 546.3 670.0 546.5" stroke="#43682B" stroke-width="4.7"/>
</g>
<g font-size="21"><g transform="translate(77.9 553.0) scale(1 1.065)"><text text-anchor="end">0.0</text></g><g transform="translate(77.9 419.1) scale(1 1.065)"><text text-anchor="end">0.5</text></g><g transform="translate(77.9 284.9) scale(1 1.065)"><text text-anchor="end"> .0</text><path d="M515 0L696 0L696 1409L530 1409L197 1180L197 1010L515 1237Z" transform="translate(-29.19 0) scale(0.010254 -0.010254)"/></g><g transform="translate(77.9 151.7) scale(1 1.065)"><text text-anchor="end"> .5</text><path d="M515 0L696 0L696 1409L530 1409L197 1180L197 1010L515 1237Z" transform="translate(-29.19 0) scale(0.010254 -0.010254)"/></g><g transform="translate(77.9 18.3) scale(1 1.065)"><text text-anchor="end">2.0</text></g><g transform="translate(95.4 578.0) scale(1 1.065)"><text text-anchor="middle">200</text></g><g transform="translate(286.2 578.0) scale(1 1.065)"><text text-anchor="middle">300</text></g><g transform="translate(477.1 578.0) scale(1 1.065)"><text text-anchor="middle">400</text></g><g transform="translate(667.9 578.0) scale(1 1.065)"><text text-anchor="middle">500</text></g></g>
<g font-size="21"><g transform="translate(124.8 68.6) scale(1 1.065)"><text> 5 mM BQDS</text><path d="M515 0L696 0L696 1409L530 1409L197 1180L197 1010L515 1237Z" transform="translate(0.00 0) scale(0.010254 -0.010254)"/></g></g>
<g font-size="21"><path d="M338.2 76.6H396.0" stroke="#4472C4" stroke-width="4.8" stroke-linecap="round"/><g transform="translate(401.8 83.8) scale(1 1.065)"><text>0 min</text></g><path d="M498.8 76.6H556.6" stroke="#ED7D31" stroke-width="4.8" stroke-linecap="round"/><g transform="translate(562.4 83.8) scale(1 1.065)"><text>  min</text><path d="M515 0L696 0L696 1409L530 1409L197 1180L197 1010L515 1237Z" transform="translate(0.00 0) scale(0.010254 -0.010254)"/></g><path d="M338.2 117.2H396.0" stroke="#A5A5A5" stroke-width="4.8" stroke-linecap="round"/><g transform="translate(401.8 124.4) scale(1 1.065)"><text>5 min</text></g><path d="M498.8 117.2H556.6" stroke="#FFC000" stroke-width="4.8" stroke-linecap="round"/><g transform="translate(562.4 124.4) scale(1 1.065)"><text> 0 min</text><path d="M515 0L696 0L696 1409L530 1409L197 1180L197 1010L515 1237Z" transform="translate(0.00 0) scale(0.010254 -0.010254)"/></g><path d="M338.2 157.8H396.0" stroke="#5B9BD5" stroke-width="4.8" stroke-linecap="round"/><g transform="translate(401.8 165.0) scale(1 1.065)"><text>20 min</text></g><path d="M498.8 157.8H556.6" stroke="#70AD47" stroke-width="4.8" stroke-linecap="round"/><g transform="translate(562.4 165.0) scale(1 1.065)"><text>40 min</text></g><path d="M338.2 198.4H396.0" stroke="#264478" stroke-width="4.8" stroke-linecap="round"/><g transform="translate(401.8 205.6) scale(1 1.065)"><text>  h</text><path d="M515 0L696 0L696 1409L530 1409L197 1180L197 1010L515 1237Z" transform="translate(0.00 0) scale(0.010254 -0.010254)"/></g><path d="M498.8 198.4H556.6" stroke="#9E480E" stroke-width="4.8" stroke-linecap="round"/><g transform="translate(562.4 205.6) scale(1 1.065)"><text>2 h</text></g><path d="M338.2 239.0H396.0" stroke="#636363" stroke-width="4.8" stroke-linecap="round"/><g transform="translate(401.8 246.2) scale(1 1.065)"><text>4 h</text></g><path d="M498.8 239.0H556.6" stroke="#997300" stroke-width="4.8" stroke-linecap="round"/><g transform="translate(562.4 246.2) scale(1 1.065)"><text>8 h</text></g><path d="M338.2 279.6H396.0" stroke="#255E91" stroke-width="4.8" stroke-linecap="round"/><g transform="translate(401.8 286.8) scale(1 1.065)"><text> 2 h</text><path d="M515 0L696 0L696 1409L530 1409L197 1180L197 1010L515 1237Z" transform="translate(0.00 0) scale(0.010254 -0.010254)"/></g><path d="M498.8 279.6H556.6" stroke="#43682B" stroke-width="4.8" stroke-linecap="round"/><g transform="translate(562.4 286.8) scale(1 1.065)"><text> 6 h</text><path d="M515 0L696 0L696 1409L530 1409L197 1180L197 1010L515 1237Z" transform="translate(0.00 0) scale(0.010254 -0.010254)"/></g></g>
<g font-size="21"><g transform="translate(342.2 599.7) scale(1 1.065)"><text><tspan font-style="italic">λ</tspan> (nm)</text></g></g>
<text transform="translate(17.9 391.7) rotate(-90)" font-size="21">Absorbance (Arb. Units)</text>
</svg>
</body></html>
